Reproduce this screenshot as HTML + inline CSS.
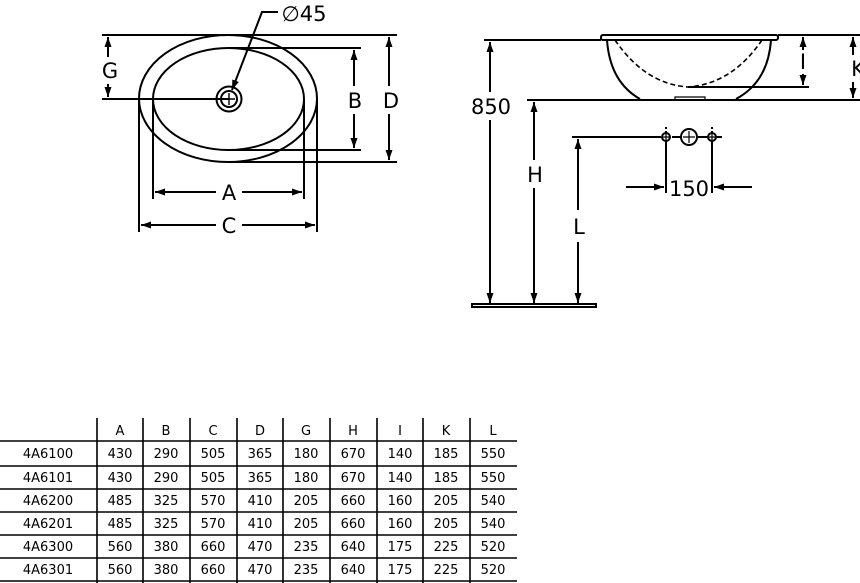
<!DOCTYPE html>
<html><head><meta charset="utf-8"><style>
html,body{margin:0;padding:0;background:#fff;width:860px;height:583px;overflow:hidden}
svg{display:block}
text{font-family:"DejaVu Sans","Liberation Sans",sans-serif;fill:#000}
</style></head><body>
<svg width="860" height="583" viewBox="0 0 860 583" xmlns="http://www.w3.org/2000/svg">
<defs>
<marker id="a" viewBox="0 0 10 10" refX="10" refY="5" markerWidth="10" markerHeight="10" markerUnits="userSpaceOnUse" orient="auto"><path d="M0,1.5 L10,5 L0,8.5 z" fill="#000"/></marker>
</defs>
<g stroke="#000" stroke-width="2" fill="none">
<ellipse cx="228" cy="98.5" rx="89" ry="63.5"/>
<ellipse cx="228.5" cy="99" rx="75.5" ry="51"/>
<circle cx="229" cy="99" r="12.5"/>
<circle cx="229" cy="99" r="8"/>
<path d="M229,93 V105 M223,99 H235" stroke-width="1.4"/>
<path d="M102,35 H397 M102,99 H229 M229,48 H361 M229,150 H361 M229,162 H397"/>
<path d="M108,57 V37" marker-end="url(#a)"/><path d="M108,84 V97" marker-end="url(#a)"/>
<path d="M354,86 V50" marker-end="url(#a)"/><path d="M354,114 V148" marker-end="url(#a)"/>
<path d="M389,86 V37" marker-end="url(#a)"/><path d="M389,114 V160" marker-end="url(#a)"/>
<path d="M153,99 V199 M304,99 V199 M139,99 V232 M317,99 V232"/>
<path d="M216,192 H155" marker-end="url(#a)"/><path d="M242,192 H302" marker-end="url(#a)"/>
<path d="M216,225 H141" marker-end="url(#a)"/><path d="M242,225 H315" marker-end="url(#a)"/>
<path d="M278,12 H262 L232,90" marker-end="url(#a)"/>
<path d="M484,40 H601 M527,100 H860 M778,35 H860 M688,87 H809"/>
<rect x="601" y="35" width="177" height="5" rx="2"/>
<path d="M607,40 Q610,82 640,99 M771,40 Q768,82 736,99"/>
<path d="M675,99 V97 H705 V99" stroke-width="1.2"/>
<path d="M615,40 Q645,84 688,87 Q732,84 762,40" stroke-dasharray="5,3" stroke-width="1.6"/>
<path d="M803,50 V37" marker-end="url(#a)"/><path d="M803,74 V85" marker-end="url(#a)"/>
<path d="M853,55 V37" marker-end="url(#a)"/><path d="M853,82 V98" marker-end="url(#a)"/>
<path d="M490,92 V42" marker-end="url(#a)"/><path d="M490,120 V303" marker-end="url(#a)"/>
<path d="M534,160 V102" marker-end="url(#a)"/><path d="M534,188 V303" marker-end="url(#a)"/>
<path d="M572,137 H661 M672,137 H681 M698,137 H707 M717,137 H722" />
<path d="M578,210 V139" marker-end="url(#a)"/><path d="M578,242 V303" marker-end="url(#a)"/>
<rect x="472" y="304" width="124" height="3"/>
<circle cx="666" cy="137" r="4"/><circle cx="712" cy="137" r="4"/><circle cx="689" cy="137" r="8"/>
<path d="M666,133 V141 M662,137 H670 M712,133 V141 M708,137 H716 M689,131 V143 M683,137 H695" stroke-width="1.2"/>
<path d="M666,127 V133 M712,127 V133" stroke-dasharray="2,2"/>
<path d="M666,141 V193 M712,141 V193"/>
<path d="M626,187 H664" marker-end="url(#a)"/><path d="M752,187 H714" marker-end="url(#a)"/>
<g stroke-width="1.6">
<path d="M0,441 H517 M0,466 H517 M0,489 H517 M0,512 H517 M0,535 H517 M0,558 H517 M0,581 H517"/>
<path d="M97,418 V583 M143,418 V583 M190,418 V583 M237,418 V583 M283,418 V583 M330,418 V583 M377,418 V583 M423,418 V583 M470,418 V583"/>
</g>
</g>
<g font-size="21" text-anchor="middle">
<text x="110" y="78">G</text>
<text x="355" y="108">B</text>
<text x="391" y="108">D</text>
<text x="229" y="200">A</text>
<text x="229" y="233">C</text>
<text x="304" y="21">∅45</text>
<text x="491" y="114">850</text>
<text x="535" y="182">H</text>
<text x="579" y="234">L</text>
<text x="689" y="196">150</text>
<text x="803" y="69">I</text>
<text x="858" y="76">K</text>
</g>
<g font-size="13" text-anchor="middle">
<text x="120" y="435">A</text><text x="166" y="435">B</text><text x="213" y="435">C</text><text x="260" y="435">D</text><text x="306" y="435">G</text><text x="353" y="435">H</text><text x="400" y="435">I</text><text x="446" y="435">K</text><text x="493" y="435">L</text>
</g>
<g font-size="13" text-anchor="middle">
<g transform="translate(0,458)"><text x="48">4A6100</text><text x="120">430</text><text x="166">290</text><text x="213">505</text><text x="260">365</text><text x="306">180</text><text x="353">670</text><text x="400">140</text><text x="446">185</text><text x="493">550</text></g>
<g transform="translate(0,482)"><text x="48">4A6101</text><text x="120">430</text><text x="166">290</text><text x="213">505</text><text x="260">365</text><text x="306">180</text><text x="353">670</text><text x="400">140</text><text x="446">185</text><text x="493">550</text></g>
<g transform="translate(0,505)"><text x="48">4A6200</text><text x="120">485</text><text x="166">325</text><text x="213">570</text><text x="260">410</text><text x="306">205</text><text x="353">660</text><text x="400">160</text><text x="446">205</text><text x="493">540</text></g>
<g transform="translate(0,528)"><text x="48">4A6201</text><text x="120">485</text><text x="166">325</text><text x="213">570</text><text x="260">410</text><text x="306">205</text><text x="353">660</text><text x="400">160</text><text x="446">205</text><text x="493">540</text></g>
<g transform="translate(0,551)"><text x="48">4A6300</text><text x="120">560</text><text x="166">380</text><text x="213">660</text><text x="260">470</text><text x="306">235</text><text x="353">640</text><text x="400">175</text><text x="446">225</text><text x="493">520</text></g>
<g transform="translate(0,574)"><text x="48">4A6301</text><text x="120">560</text><text x="166">380</text><text x="213">660</text><text x="260">470</text><text x="306">235</text><text x="353">640</text><text x="400">175</text><text x="446">225</text><text x="493">520</text></g>
</g>
</svg>
</body></html>
